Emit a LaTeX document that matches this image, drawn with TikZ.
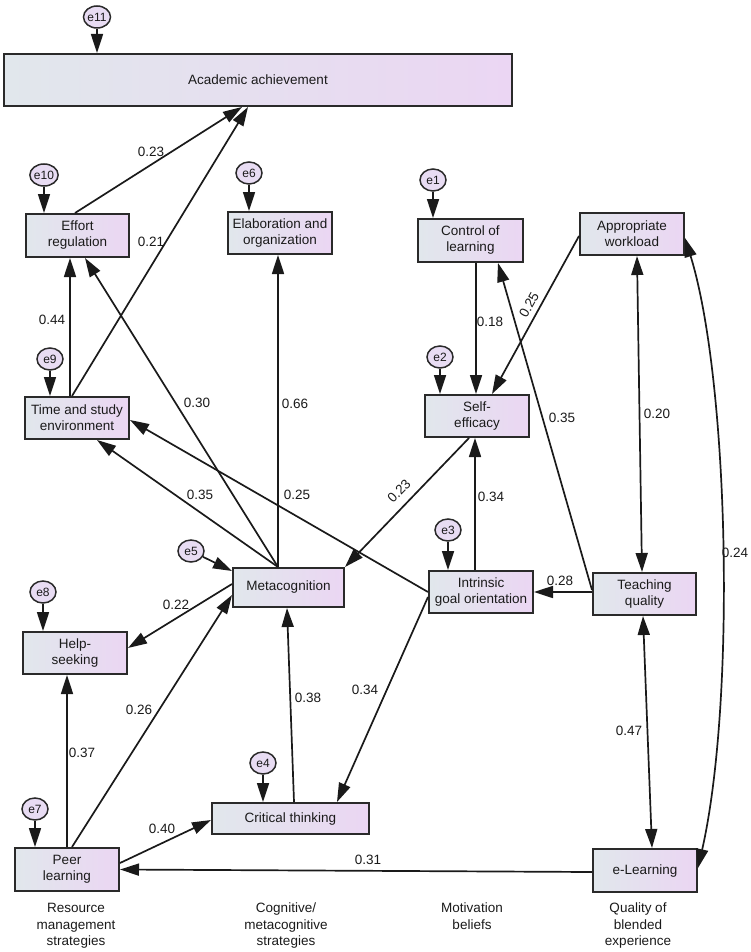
\documentclass[tikz,border=0pt]{standalone}
\usepackage{fontspec}
\setmainfont{Liberation Sans}
\usetikzlibrary{arrows.meta, shapes.geometric}
\definecolor{boxl}{HTML}{E1E7EC}
\definecolor{boxr}{HTML}{EBD6F3}
\definecolor{errfill}{HTML}{E8DCF3}
\definecolor{edge}{HTML}{2A2A2A}
\definecolor{ink}{HTML}{1A1A1A}

\begin{document}
\begin{tikzpicture}[x=1pt, y=-1pt,
    every node/.style={font=\fontsize{13.5}{16}\selectfont, text=ink},
    obs/.style={rectangle, draw=edge, line width=2pt, left color=boxl, right color=boxr,
                align=center, inner sep=0pt},
    errv/.style={ellipse, draw=edge, line width=1.5pt, fill=errfill, inner sep=0pt,
                 minimum width=26pt, minimum height=22pt, font=\fontsize{12}{14}\selectfont},
    reg/.style={-{Triangle[length=19pt, width=12pt]}, line width=1.7pt, ink},
    cov/.style={{Triangle[length=19pt, width=12pt]}-{Triangle[length=19pt, width=12pt]}, line width=1.7pt, ink},
    coef/.style={inner sep=0pt},
    grp/.style={align=center, anchor=north, inner sep=0pt, font=\fontsize{13.5}{16.5}\selectfont},
]
\useasboundingbox (0,0) rectangle (751,952);

% ================================================ observed variables
\node[obs, minimum width=508, minimum height=52] (acad) at (258,80) {Academic achievement};
\node[obs, minimum width=103, minimum height=43] (effort) at (77.5,235.5) {Effort\\regulation};
\node[obs, minimum width=104, minimum height=42] (elab) at (280,233) {Elaboration and\\organization};
\node[obs, minimum width=104, minimum height=42] (timeenv) at (77,418) {Time and study\\environment};
\node[obs, minimum width=105, minimum height=43] (control) at (470.5,240.5) {Control of\\learning};
\node[obs, minimum width=104, minimum height=42] (workload) at (632,234) {Appropriate\\workload};
\node[obs, minimum width=104, minimum height=42] (selfeff) at (477,416) {Self-\\efficacy};
\node[obs, minimum width=111, minimum height=39] (meta) at (288.5,587.5) {Metacognition};
\node[obs, minimum width=104, minimum height=42] (help) at (75,653) {Help-\\seeking};
\node[obs, minimum width=104, minimum height=42] (intrinsic) at (481,592) {Intrinsic\\goal orientation};
\node[obs, minimum width=103, minimum height=42] (teaching) at (644.5,594) {Teaching\\quality};
\node[obs, minimum width=157, minimum height=31] (critical) at (290.5,818.5) {Critical thinking};
\node[obs, minimum width=104, minimum height=43] (peer) at (67,869.5) {Peer\\learning};
\node[obs, minimum width=104, minimum height=43] (elearn) at (645,870.5) {e-Learning};

% ================================================ error terms
\foreach \n/\x/\y in {e11/97/17, e10/44/175, e6/249/173, e9/50/359, e1/433/180,
                      e2/440/357, e5/191/551, e8/43/592, e3/448/530, e4/263/763, e7/35/809}{
    \node[errv] (\n) at (\x,\y) {\n};
}
\foreach \n/\b in {e11/acad, e10/effort, e6/elab, e9/timeenv, e1/control,
                   e2/selfeff, e3/intrinsic, e4/critical, e7/peer, e8/help}{
    \draw[reg] (\n) -- (\n |- \b.north);
}
\draw[reg] (e5) -- ([yshift=-4]meta.north west);

% ================================================ paths
\coordinate (mtop) at ([xshift=-10.5]meta.north);
\draw[reg] ([xshift=-2.5]effort.north) -- ([xshift=-16]acad.south);
\draw[reg] ([xshift=-5]timeenv.north) -- ([xshift=-10]acad.south);
\draw[reg] ([xshift=-7]timeenv.north) -- ([xshift=-7]timeenv.north |- effort.south);
\draw[reg] (mtop) -- ([xshift=7.5]effort.south);
\draw[reg] (mtop) -- (mtop |- elab.south);
\draw[reg] (mtop) -- ([xshift=20]timeenv.south);
\draw[reg] (intrinsic.west) -- ([yshift=-2]timeenv.east);
\draw[reg] ([yshift=-5]intrinsic.west) -- ([xshift=46.5]critical.north);
\draw[reg] ([xshift=-8]selfeff.south) -- (meta.north east);
\draw[reg] ([yshift=3.5]meta.west) -- ([yshift=5]help.east);
\draw[reg] ([xshift=5]peer.north) -- ([yshift=-7.5]meta.west);
\draw[reg] (peer.north) -- (peer.north |- help.south);
\draw[reg] ([yshift=6.5]peer.east) -- ([yshift=-1.5]critical.west);
\draw[reg] ([yshift=-1.5]elearn.west) -- (peer.east);
\draw[reg] ([xshift=3.5]critical.north) -- ([xshift=-1.5]meta.south);
\draw[reg] ([xshift=5.5]control.south) -- ([xshift=-1]selfeff.north);
\draw[reg] ([yshift=-2]workload.west) -- ([xshift=15]selfeff.north);
\draw[reg] ([yshift=4]teaching.west) -- ([xshift=27.5]control.south);
\draw[reg] ([yshift=2]teaching.west) -- (intrinsic.east);
\draw[reg] ([xshift=-6]intrinsic.north) -- ([xshift=-2]selfeff.south);

% correlations
\draw[cov] ([xshift=5]workload.south) -- ([xshift=-2.5]teaching.north);
\draw[cov] ([xshift=-1.5]teaching.south) -- ([xshift=7]elearn.north);
\draw[cov] ([yshift=-4]workload.east) .. controls +(44,142) and +(38,-168) .. ([yshift=2.5]elearn.east);

% ================================================ coefficients
\foreach \v/\x/\y [count=\k] in {0.23/151/152, 0.21/151/242, 0.44/52/320, 0.30/197/403,
        0.66/295/404, 0.35/200/495, 0.25/297/495, 0.22/176/605, 0.26/139/710,
        0.37/82/753, 0.40/162/829, 0.38/308/698, 0.34/365/690, 0.31/368/860,
        0.18/490/322, 0.35/562/418, 0.20/657/414, 0.34/491/497, 0.28/560/581,
        0.24/735/553, 0.47/629/731}{
    \node[coef] (c\k) at (\x,\y) {\v};
}
\node[coef, rotate=46] (rot1) at (399,491) {0.23};
\node[coef, rotate=61] (rot2) at (529,305) {0.25};

% ================================================ groups
\node[grp] (g1) at (76,903) {Resource\\management\\strategies};
\node[grp] (g2) at (286,903) {Cognitive/\\metacognitive\\strategies};
\node[grp] (g3) at (472,903) {Motivation\\beliefs};
\node[grp] (g4) at (638,903) {Quality of\\blended\\experience};

\end{tikzpicture}
\end{document}
